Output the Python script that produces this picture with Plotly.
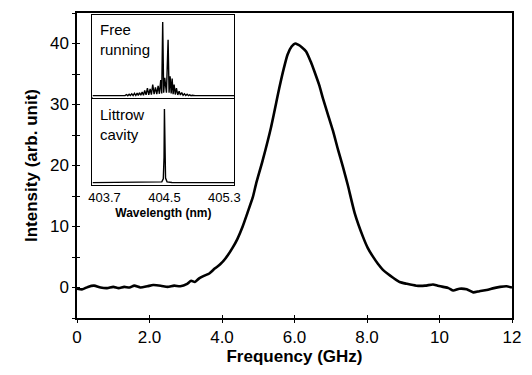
import plotly.graph_objects as go

# Main spectrum
freq_ghz = [0.00, 0.15, 0.30, 0.47, 0.65, 0.83, 1.00, 1.15, 1.30, 1.45, 1.58, 1.75, 1.94, 2.10,
            2.31, 2.50, 2.68, 2.85, 3.04, 3.15, 3.25, 3.37, 3.50, 3.65, 3.80, 3.95, 4.10, 4.29,
            4.42, 4.57, 4.70, 4.85, 4.94, 5.12, 5.35, 5.58, 5.70, 5.81, 5.92, 6.02, 6.10, 6.20,
            6.32, 6.45, 6.55, 6.68, 6.78, 6.92, 7.06, 7.20, 7.34, 7.47, 7.66, 7.89, 8.02, 8.16,
            8.30, 8.44, 8.58, 8.72, 8.90, 9.10, 9.36, 9.60, 9.82, 9.95, 10.10, 10.25, 10.38,
            10.55, 10.75, 10.93, 11.10, 11.30, 11.50, 11.67, 11.85, 12.00]
intensity = [-0.2, -0.3, 0.1, 0.3, 0.0, -0.1, 0.1, -0.1, 0.1, 0.0, 0.3, 0.0, 0.2, 0.4,
             0.3, 0.1, 0.3, 0.2, 0.6, 1.1, 0.9, 1.5, 1.9, 2.3, 3.1, 3.8, 4.8, 6.5,
             7.9, 10.0, 12.2, 14.8, 17.0, 20.8, 26.2, 32.7, 35.8, 38.2, 39.5, 40.0, 39.8, 39.4,
             38.7, 37.0, 35.4, 33.2, 31.1, 28.4, 25.7, 22.6, 19.7, 16.8, 12.2, 8.3, 6.5, 5.1,
             3.9, 2.9, 2.2, 1.6, 0.9, 0.6, 0.3, 0.3, 0.5, 0.3, 0.1, -0.1, -0.5,
             -0.2, -0.3, -0.8, -0.6, -0.4, -0.1, 0.1, 0.2, 0.0]

# Inset: free-running spectrum
free_wl = [403.54, 403.90, 403.975, 403.993, 404.011, 404.029, 404.046, 404.064, 404.082, 404.100,
           404.118, 404.136, 404.151, 404.167, 404.185, 404.203, 404.220, 404.237, 404.255, 404.273,
           404.291, 404.309, 404.326, 404.344, 404.362, 404.380, 404.398, 404.416, 404.433, 404.451,
           404.464, 404.477, 404.490, 404.504, 404.527, 404.549, 404.562, 404.576, 404.590, 404.603,
           404.616, 404.629, 404.645, 404.660, 404.678, 404.696, 404.713, 404.731, 404.749, 404.767,
           404.785, 404.803, 404.820, 404.837, 404.855, 404.873, 404.91, 405.05, 405.433]
free_int = [0.01, 0.015, 0.01, 0.025, 0.01, 0.03, 0.012, 0.035, 0.012, 0.04,
            0.012, 0.045, 0.012, 0.05, 0.015, 0.06, 0.015, 0.08, 0.02, 0.11,
            0.02, 0.10, 0.025, 0.16, 0.03, 0.12, 0.03, 0.14, 0.035, 0.22,
            0.04, 1.00, 0.05, 0.25, 0.05, 0.76, 0.05, 0.27, 0.04, 0.24,
            0.03, 0.16, 0.025, 0.11, 0.02, 0.07, 0.02, 0.05, 0.015, 0.035,
            0.012, 0.03, 0.01, 0.02, 0.01, 0.015, 0.01, 0.01, 0.01]

# Inset: Littrow cavity spectrum
litt_wl = [403.54, 404.40, 404.465, 404.485, 404.495, 404.50, 404.505, 404.515, 404.535, 404.60, 405.433]
litt_int = [0.01, 0.012, 0.02, 0.06, 0.35, 1.0, 0.4, 0.07, 0.02, 0.012, 0.01]

x_ticks = [0, 2, 4, 6, 8, 10, 12]
x_ticktext = ["0", "2.0", "4.0", "6.0", "8.0", "10", "12"]
y_ticks = [0, 10, 20, 30, 40]
inset_ticks = [403.7, 404.5, 405.3]
inset_ticktext = ["403.7", "404.5", "405.3"]

FONT = "Arial, 'Liberation Sans', sans-serif"

fig = go.Figure()
fig.add_trace(go.Scatter(x=freq_ghz, y=intensity, mode="lines",
                         line=dict(color="black", width=2.6, shape="spline", smoothing=0.6),
                         xaxis="x", yaxis="y", showlegend=False, hoverinfo="skip"))
fig.add_trace(go.Scatter(x=free_wl, y=free_int, mode="lines",
                         line=dict(color="black", width=1.4),
                         xaxis="x3", yaxis="y3", showlegend=False, hoverinfo="skip"))
fig.add_trace(go.Scatter(x=litt_wl, y=litt_int, mode="lines",
                         line=dict(color="black", width=1.4),
                         xaxis="x2", yaxis="y2", showlegend=False, hoverinfo="skip"))
# empty trace to activate overlay axes carrying the inward tick halves
fig.add_trace(go.Scatter(x=[], y=[], xaxis="x4", yaxis="y4", showlegend=False))

ix0, ix1 = 0.0356, 0.3617
iy0, iymid, iy1 = 0.435, 0.7211, 0.9943
inset_range = [403.54, 405.433]

fig.update_layout(
    width=532, height=375,
    margin=dict(l=77, r=19, t=11, b=57),
    paper_bgcolor="white", plot_bgcolor="white",
    font=dict(family=FONT, color="black"),
    xaxis=dict(range=[0, 12], tickvals=x_ticks, ticktext=x_ticktext,
               ticks="outside", ticklen=3, tickwidth=1.2, tickcolor="black",
               showline=True, linecolor="black", linewidth=1.5, mirror=True,
               showgrid=False, zeroline=False, tickfont=dict(size=17),
               title=dict(text="<b>Frequency (GHz)</b>", font=dict(size=17), standoff=2)),
    yaxis=dict(range=[-5, 45], tickvals=y_ticks,
               ticks="outside", ticklen=3, tickwidth=1.2, tickcolor="black",
               minor=dict(dtick=5, tick0=5, ticks="outside", ticklen=3, tickcolor="black", tickwidth=1),
               showline=True, linecolor="black", linewidth=1.5, mirror=True,
               showgrid=False, zeroline=False, tickfont=dict(size=17),
               title=dict(text="<b>Intensity (arb. unit)</b>", font=dict(size=17), standoff=8)),
    xaxis4=dict(overlaying="x", anchor="y4", range=[0, 12], tickvals=x_ticks,
                ticks="inside", ticklen=3, tickwidth=1.2, tickcolor="black",
                showticklabels=False, showline=False, showgrid=False, zeroline=False),
    yaxis4=dict(overlaying="y", anchor="x4", range=[-5, 45], tickvals=y_ticks,
                ticks="inside", ticklen=3, tickwidth=1.2, tickcolor="black",
                minor=dict(dtick=5, tick0=5, ticks="inside", ticklen=3, tickcolor="black", tickwidth=1),
                showticklabels=False, showline=False, showgrid=False, zeroline=False),
    xaxis2=dict(domain=[ix0, ix1], anchor="y2", range=inset_range,
                tickvals=inset_ticks, ticktext=inset_ticktext, ticks="",
                showline=True, linecolor="black", linewidth=1.2, mirror=True,
                showgrid=False, zeroline=False, tickfont=dict(size=13),
                title=dict(text="<b>Wavelength (nm)</b>", font=dict(size=12), standoff=4)),
    yaxis2=dict(domain=[iy0, iymid], anchor="x2", range=[-0.0267, 1.147],
                showticklabels=False, ticks="",
                showline=True, linecolor="black", linewidth=1.2, mirror=True,
                showgrid=False, zeroline=False),
    xaxis3=dict(domain=[ix0, ix1], anchor="y3", range=inset_range,
                showticklabels=False, ticks="",
                showline=True, linecolor="black", linewidth=1.2, mirror=True,
                showgrid=False, zeroline=False),
    yaxis3=dict(domain=[iymid, iy1], anchor="x3", range=[-0.0224, 1.0976],
                showticklabels=False, ticks="",
                showline=True, linecolor="black", linewidth=1.2, mirror=True,
                showgrid=False, zeroline=False),
    annotations=[
        dict(text="Free<br>running", xref="x3 domain", yref="y3 domain", x=0.04, y=0.95,
             xanchor="left", yanchor="top", showarrow=False, align="left",
             font=dict(size=15)),
        dict(text="Littrow<br>cavity", xref="x2 domain", yref="y2 domain", x=0.04, y=0.93,
             xanchor="left", yanchor="top", showarrow=False, align="left",
             font=dict(size=15)),
    ],
)

fig.write_html("out.html")
